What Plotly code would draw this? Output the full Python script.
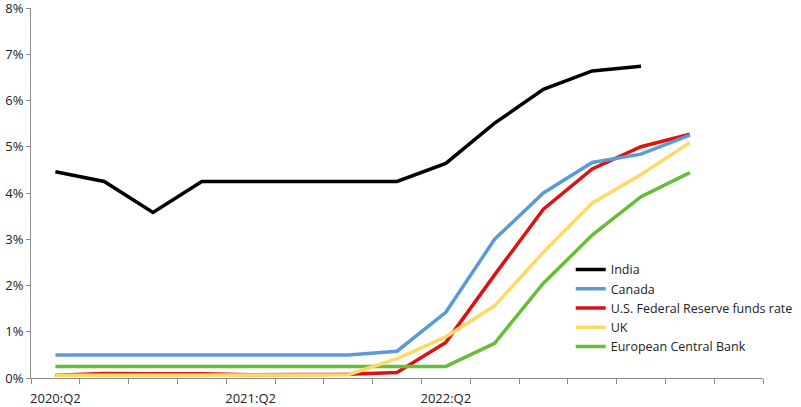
import plotly.graph_objects as go

quarters = ["2020:Q2", "2020:Q3", "2020:Q4", "2021:Q1", "2021:Q2", "2021:Q3", "2021:Q4",
            "2022:Q1", "2022:Q2", "2022:Q3", "2022:Q4", "2023:Q1", "2023:Q2", "2023:Q3", "2023:Q4"]
tick_labels = ["2020:Q2", "2021:Q2", "2022:Q2"]

india = [4.46, 4.25, 3.58, 4.25, 4.25, 4.25, 4.25, 4.25, 4.64, 5.51, 6.24, 6.64, 6.74]
canada = [0.50, 0.50, 0.50, 0.50, 0.50, 0.50, 0.50, 0.58, 1.42, 3.00, 4.00, 4.66, 4.84, 5.25]
us_fed = [0.06, 0.10, 0.09, 0.09, 0.07, 0.08, 0.08, 0.12, 0.77, 2.23, 3.65, 4.52, 5.00, 5.27]
uk = [0.06, 0.06, 0.06, 0.06, 0.06, 0.06, 0.07, 0.42, 0.89, 1.56, 2.72, 3.78, 4.40, 5.09]
ecb = [0.25, 0.25, 0.25, 0.25, 0.25, 0.25, 0.25, 0.25, 0.25, 0.75, 2.05, 3.09, 3.92, 4.44]

# (name, values, colour, legend rank); listed in drawing order (bottom first)
series = [
    ("U.S. Federal Reserve funds rate", us_fed, "#E01010", 3),
    ("European Central Bank", ecb, "#66BE38", 5),
    ("UK", uk, "#FFD966", 4),
    ("Canada", canada, "#5B9BD5", 2),
    ("India", india, "#000000", 1),
]

fig = go.Figure()
for name, vals, color, rank in series:
    fig.add_trace(go.Scatter(
        x=list(range(len(vals))), y=vals, name=name, mode="lines",
        line=dict(color=color, width=3.5),
        legendrank=rank,
        customdata=quarters[:len(vals)],
        hovertemplate="%{customdata}: %{y:.2f}%<extra>" + name + "</extra>",
    ))

font_family = "Open Sans, Liberation Sans, sans-serif"
n = len(quarters)
fig.update_layout(
    width=801, height=407,
    margin=dict(l=31, r=38, t=8, b=29, autoexpand=False),
    paper_bgcolor="white", plot_bgcolor="white",
    font=dict(family=font_family, size=13, color="#222222"),
    showlegend=True,
    legend=dict(x=0.7125, y=0.374, xref="container", yref="container",
                xanchor="left", yanchor="top", traceorder="normal",
                bgcolor="rgba(0,0,0,0)", font=dict(size=12.5, color="#222222"),
                tracegroupgap=0, itemwidth=30),
    xaxis=dict(
        range=[-0.5, n - 0.5],
        tickmode="array",
        tickvals=[quarters.index(t) for t in tick_labels],
        ticktext=tick_labels,
        ticks="",
        ticklabelstandoff=8,
        ticklabeloverflow="allow",
        automargin=False,
        showgrid=False, zeroline=False,
        showline=True, linecolor="#8c8c8c", linewidth=1,
        minor=dict(tickmode="array", tickvals=[i - 0.5 for i in range(n + 1)],
                   ticks="outside", ticklen=5, tickcolor="#8c8c8c", showgrid=False),
        tickfont=dict(size=13),
    ),
    yaxis=dict(
        range=[0, 8],
        tickmode="array",
        tickvals=list(range(0, 9)),
        ticktext=[f"{v}%" for v in range(0, 9)],
        ticks="outside", ticklen=4, tickcolor="#8c8c8c",
        ticklabeloverflow="allow",
        automargin=False,
        showgrid=False, zeroline=False,
        showline=True, linecolor="#8c8c8c", linewidth=1,
        tickfont=dict(size=13),
    ),
)

fig.write_html("out.html")
